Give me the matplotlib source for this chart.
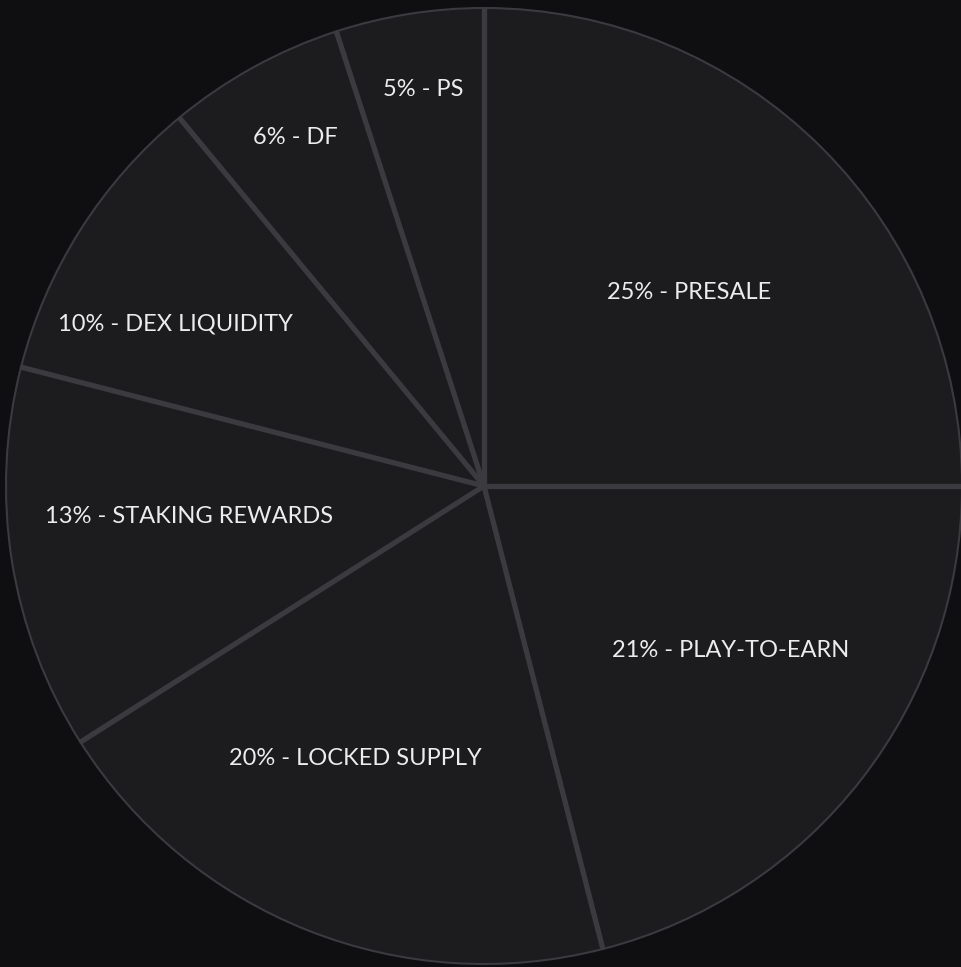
import numpy as np
import matplotlib.pyplot as plt

labels = ['PRESALE', 'PLAY-TO-EARN', 'LOCKED SUPPLY', 'STAKING REWARDS',
          'DEX LIQUIDITY', 'DF', 'PS']
shares = [25, 21, 20, 13, 10, 6, 5]

bg = '#0f0f11'
fill = '#1c1c1f'
edge = '#3a3a3f'

fig = plt.figure(figsize=(9.62, 9.67), dpi=100, facecolor=bg)
ax = fig.add_axes([0, 0, 1, 1])
ax.set_facecolor(bg)

R = 478
cx, cy = 484, 486

wedges, _ = ax.pie(shares, startangle=90, counterclock=False,
                   colors=[fill] * len(shares),
                   wedgeprops=dict(edgecolor=edge, linewidth=1.5))
ax.set_xlim(-cx / R, (962 - cx) / R)
ax.set_ylim(-(967 - cy) / R, cy / R)
ax.set_aspect('auto')
ax.axis('off')

# spokes between slices
bounds = 90 - np.cumsum([0] + shares) / 100 * 360
for a in bounds[:-1]:
    t = np.deg2rad(a)
    ax.plot([0, np.cos(t)], [0, np.sin(t)], color=edge, lw=3.8,
            solid_capstyle='butt')

label_r = [0.59, 0.62, 0.63, 0.62, 0.73, 0.83, 0.84]
label_off = [-1.7, 4.2, -3.6, -3.0, 4.7, -0.4, -0.3]
for i, (lab, s) in enumerate(zip(labels, shares)):
    mid = (bounds[i] + bounds[i + 1]) / 2 + label_off[i]
    t = np.deg2rad(mid)
    ax.text(label_r[i] * np.cos(t), label_r[i] * np.sin(t), f'{s}% - {lab}',
            ha='center', va='center', color='#ececee', fontsize=17,
            family='Lato', zorder=5)

fig.savefig('out.png', dpi=100, facecolor=bg)
